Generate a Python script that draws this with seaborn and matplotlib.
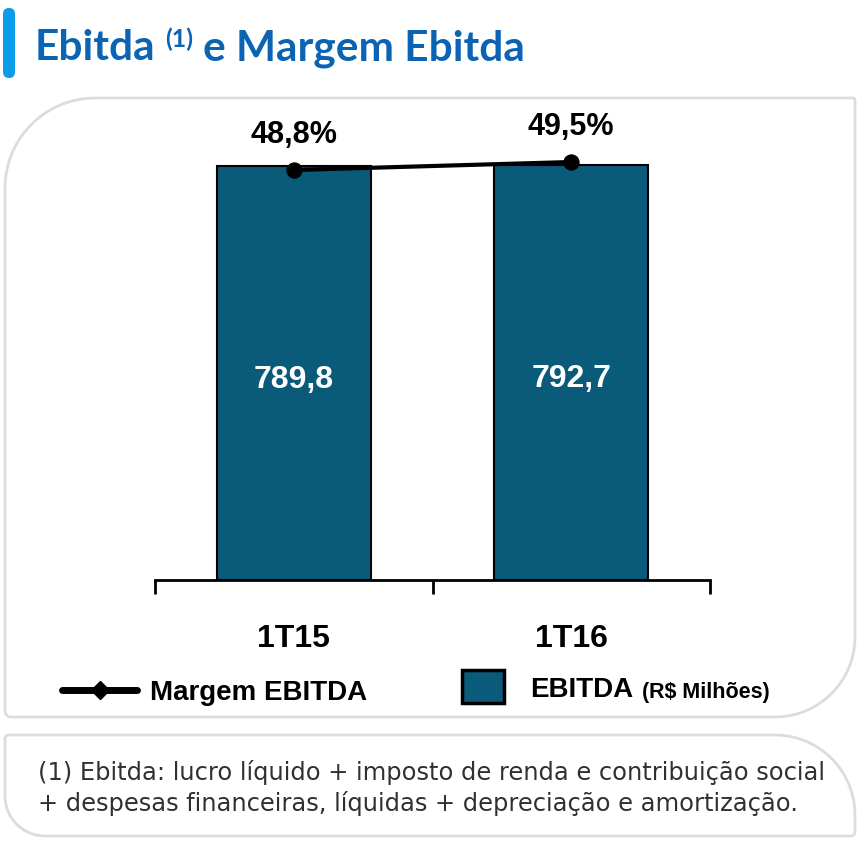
import numpy as np
import pandas as pd
import matplotlib
matplotlib.use("Agg")
import matplotlib.pyplot as plt
from matplotlib.path import Path
from matplotlib.patches import PathPatch, FancyBboxPatch, Rectangle
from matplotlib.lines import Line2D
import seaborn as sns

# ---------------- data ----------------
periods = ["1T15", "1T16"]
ebitda = [789.8, 792.7]            # R$ milhões
margin = [48.8, 49.5]              # %
ebitda_labels = ["789,8", "792,7"]
margin_labels = ["48,8%", "49,5%"]

title_main = "Ebitda"
title_sup = "(1)"
title_rest = "e Margem Ebitda"
legend_line = "Margem EBITDA"
legend_bar = "EBITDA"
legend_bar_unit = "(R$ Milhões)"
footnote = ["(1) Ebitda: lucro líquido + imposto de renda e contribuição social",
            "+ despesas financeiras, líquidas + depreciação e amortização."]

BAR_COLOR = "#0A5A79"
TITLE_COLOR = "#0B63B4"
ACCENT = "#0A9BEA"
PANEL_EDGE = "#DCDCDC"

W, H = 865, 846
sns.set_theme(style="white")
plt.rcParams["font.family"] = ["Liberation Sans", "DejaVu Sans"]

fig = plt.figure(figsize=(W / 100, H / 100), dpi=100)
fig.patch.set_facecolor("white")
renderer = fig.canvas.get_renderer()


def px(x, y):
    return x / W, 1 - y / H


def panel_path(x0, y0, x1, y1, r_tl, r_tr, r_br, r_bl):
    pts = []

    def arc(cx, cy, r, a0, a1):
        t = np.linspace(np.radians(a0), np.radians(a1), 20)
        return [(cx + r * np.cos(tt), cy + r * np.sin(tt)) for tt in t]
    pts += arc(x0 + r_tl, y0 + r_tl, r_tl, 180, 270)
    pts += arc(x1 - r_tr, y0 + r_tr, r_tr, 270, 360)
    pts += arc(x1 - r_br, y1 - r_br, r_br, 0, 90)
    pts += arc(x0 + r_bl, y1 - r_bl, r_bl, 90, 180)
    pts.append(pts[0])
    verts = [px(a, b) for a, b in pts]
    codes = [Path.MOVETO] + [Path.LINETO] * (len(verts) - 2) + [Path.CLOSEPOLY]
    return Path(verts, codes)


fig.add_artist(PathPatch(panel_path(5, 98, 855, 717, 90, 2, 80, 6),
                         transform=fig.transFigure, facecolor="white",
                         edgecolor=PANEL_EDGE, lw=2, zorder=0))
fig.add_artist(PathPatch(panel_path(5, 735, 855, 836, 4, 80, 4, 40),
                         transform=fig.transFigure, facecolor="white",
                         edgecolor=PANEL_EDGE, lw=2, zorder=0))

# accent bar
fig.add_artist(FancyBboxPatch(px(3, 78), 12 / W, 70 / H,
                              boxstyle="round,pad=0,rounding_size=0.007",
                              transform=fig.transFigure, facecolor=ACCENT,
                              edgecolor="none"))

# title pieces
tfont = dict(family=["Lato", "DejaVu Sans"], weight="bold", color=TITLE_COLOR)
t1 = fig.text(*px(35, 60), title_main, fontsize=30.5, va="baseline", **tfont)
bb = t1.get_window_extent(renderer)
t2 = fig.text((bb.x1 + 9) / W, 1 - 28 / H, title_sup, fontsize=18, va="top", **tfont)
bb2 = t2.get_window_extent(renderer)
fig.text((bb2.x1 + 10) / W, 1 - 60 / H, title_rest, fontsize=30.5, va="baseline", **tfont)

# ---------------- chart ----------------
ax = fig.add_axes([155 / W, (H - 580) / H, 555 / W, 470 / H])
df = pd.DataFrame({"period": periods, "ebitda": ebitda, "margin": margin})
sns.barplot(data=df, x="period", y="ebitda", ax=ax, color=BAR_COLOR,
            width=0.556, edgecolor="black", linewidth=1.5, saturation=1)
ax.set_xlim(-0.5, 1.5)
ax.set_ylim(0, 897)
ax.set_xlabel("")
ax.set_ylabel("")
ax.set_yticks([])
for s in ["top", "right", "left"]:
    ax.spines[s].set_visible(False)
ax.spines["bottom"].set_linewidth(2)
ax.spines["bottom"].set_color("black")
ax.set_xticks([-0.5, 0.5, 1.5], minor=True)
ax.tick_params(axis="x", which="minor", length=10, width=2, color="black",
               direction="out", bottom=True)
ax.tick_params(axis="x", which="major", length=0, pad=32, labelsize=23)
for lab in ax.get_xticklabels():
    lab.set_fontweight("bold")
    lab.set_color("black")
ax.patch.set_alpha(0)

for i, v in enumerate(ebitda):
    ax.annotate(ebitda_labels[i], (i, v / 2), xytext=(0, -5), textcoords="offset points",
                ha="center", va="center", color="white",
                fontsize=23, fontweight="bold")

ax2 = ax.twinx()
sns.lineplot(x=np.arange(len(periods)), y=margin, ax=ax2, color="black",
             lw=3, marker="o", markersize=11, markeredgecolor="black")
ax2.set_ylim(12.93, 54.05)
ax2.set_yticks([])
ax2.set_ylabel("")
for s in ax2.spines.values():
    s.set_visible(False)
for i, v in enumerate(margin):
    ax2.annotate(margin_labels[i], (i, v), xytext=(0, 25), textcoords="offset points",
                 ha="center", va="center", fontsize=22, fontweight="bold",
                 color="black")

# ---------------- legend ----------------
fig.add_artist(Line2D([62 / W, 137 / W], [1 - 690 / H] * 2, transform=fig.transFigure,
                      color="black", lw=5))
fig.add_artist(Line2D([100 / W], [1 - 690 / H], transform=fig.transFigure,
                      color="black", marker="D", markersize=9, lw=0))
fig.text(*px(150, 700), legend_line, fontsize=20, fontweight="bold",
         va="baseline", ha="left", color="black")
fig.add_artist(Rectangle(px(462, 703), 42 / W, 33 / H, transform=fig.transFigure,
                         facecolor=BAR_COLOR, edgecolor="black", lw=2.5))
tl = fig.text(*px(530, 697), legend_bar, fontsize=20, fontweight="bold",
              va="baseline", ha="left", color="black")
bbl = tl.get_window_extent(renderer)
fig.text((bbl.x1 + 9) / W, 1 - 698 / H, legend_bar_unit, fontsize=15.5,
         fontweight="bold", va="baseline", ha="left", color="black")

# ---------------- footnote ----------------
ffont = dict(family=["DejaVu Sans"], weight="normal", color="#303030")
target_w = 788
for line, ypos in zip(footnote, [772, 803]):
    t = fig.text(*px(38, ypos), line, fontsize=16, va="center", ha="left", **ffont)
    if line is footnote[0]:
        w = t.get_window_extent(renderer).width
        fsize = 16 * target_w / w
    t.set_fontsize(fsize)

fig.savefig("out.png", dpi=100, facecolor="white")
